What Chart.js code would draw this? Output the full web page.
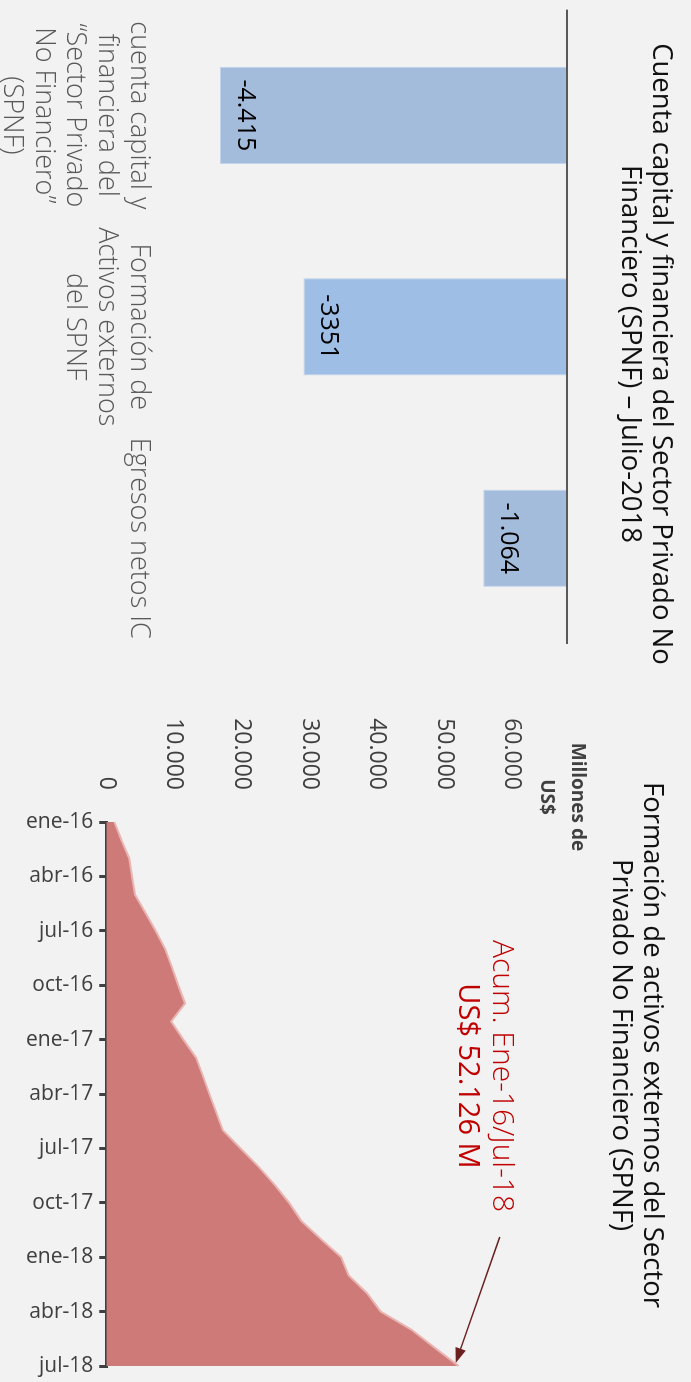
<!DOCTYPE html>
<html>
<head>
<meta charset="utf-8">
<script src="https://cdn.jsdelivr.net/npm/chart.js@4.4.1/dist/chart.umd.min.js"></script>
<style>
  html, body { margin: 0; padding: 0; background: #f2f2f2; overflow: hidden; }
  #frame {
    position: absolute; left: 0; top: 0;
    width: 1382px; height: 691px;
    background: #f2f2f2;
    transform-origin: 0 0;
    transform: translateX(691px) rotate(90deg);
  }
  #barras { position: absolute; left: 0; top: 0; }
  #area { position: absolute; left: 708px; top: 0; }
</style>
</head>
<body>
<div id="frame">
  <canvas id="barras" width="708" height="691"></canvas>
  <canvas id="area" width="674" height="691"></canvas>
</div>
<script>
// --- panel izquierdo: cuenta capital y financiera SPNF, julio 2018
const conceptos = [
  ["cuenta capital y", "financiera del", "\u201cSector Privado", "No Financiero\u201d", "(SPNF)"],
  ["Formación de", "Activos externos", "del SPNF"],
  ["Egresos netos IC"]
];
const flujos = [-4415, -3351, -1064];
const flujosTexto = ["-4.415", "-3351", "-1.064"];
const coloresBarras = ["#a4bcdc", "#9ebee6", "#a4bcdc"];

// --- panel derecho: formación de activos externos acumulada (millones US$)
const meses = [
  "ene-16", "feb-16", "mar-16", "abr-16", "may-16", "jun-16", "jul-16", "ago-16", "sep-16", "oct-16", "nov-16", "dic-16",
  "ene-17", "feb-17", "mar-17", "abr-17", "may-17", "jun-17", "jul-17", "ago-17", "sep-17", "oct-17", "nov-17", "dic-17",
  "ene-18", "feb-18", "mar-18", "abr-18", "may-18", "jun-18", "jul-18"
];
const acumulado = [
  1200, 2250, 3400, 3800, 4250, 5800, 7300, 8700, 9700, 10650, 11650, 9600,
  11400, 13300, 14300, 15250, 16250, 17250, 19850, 22500, 24900, 27050, 28850, 31750,
  34750, 35850, 38600, 40600, 45150, 48600, 52126
];
const ticksMiles = [0, 10000, 20000, 30000, 40000, 50000, 60000];

const fuente = "'Open Sans', 'Noto Sans', sans-serif";

function miles(v) {
  return String(v).replace(/\B(?=(\d{3})+(?!\d))/g, ".");
}

new Chart(document.getElementById("barras").getContext("2d"), {
  type: "bar",
  data: {
    labels: conceptos,
    datasets: [{
      data: flujos,
      backgroundColor: coloresBarras,
      borderColor: "#c3d3ea",
      borderWidth: 1,
      barPercentage: 0.46,
      categoryPercentage: 1
    }]
  },
  options: {
    responsive: false,
    animation: false,
    layout: { padding: { left: 8, right: 8, top: 0, bottom: 0 } },
    plugins: {
      legend: { display: false },
      tooltip: { enabled: false },
      title: {
        display: true,
        text: ["Cuenta capital y financiera del Sector Privado No", "Financiero (SPNF) \u2013 Julio-2018"],
        color: "#111",
        font: { family: fuente, size: 27.5, weight: "normal", lineHeight: 1.11 },
        padding: { top: 15, bottom: 48 }
      }
    },
    scales: {
      x: {
        afterFit(scale) { scale.height = 174; },
        grid: { display: false, drawTicks: false },
        border: { display: false },
        ticks: {
          autoSkip: false,
          maxRotation: 0,
          padding: 20,
          color: "#595959",
          font: { family: fuente, size: 27, weight: 300, lineHeight: 1.17 }
        }
      },
      y: {
        position: "right",
        min: -5000,
        max: 0,
        afterFit(scale) { scale.width = 56; },
        ticks: { display: false },
        border: { display: false },
        grid: {
          drawTicks: false,
          lineWidth: 2,
          color: (ctx) => (ctx.tick && ctx.tick.value === 0 ? "#595959" : "rgba(0,0,0,0)")
        }
      }
    }
  },
  plugins: [{
    id: "valoresBarras",
    afterDatasetsDraw(chart) {
      const ctx = chart.ctx;
      const meta = chart.getDatasetMeta(0);
      ctx.save();
      ctx.fillStyle = "#000";
      ctx.font = "25px " + fuente;
      ctx.textAlign = "center";
      ctx.textBaseline = "middle";
      meta.data.forEach((bar, i) => {
        ctx.fillText(flujosTexto[i], bar.x, bar.y - 25);
      });
      ctx.restore();
    }
  }]
});

new Chart(document.getElementById("area").getContext("2d"), {
  type: "line",
  data: {
    labels: meses,
    datasets: [{
      data: acumulado,
      fill: "origin",
      backgroundColor: "#cd7a78",
      borderColor: "#e9b5b3",
      borderWidth: 2,
      pointRadius: 0,
      tension: 0
    }]
  },
  options: {
    responsive: false,
    animation: false,
    layout: { padding: { left: 0, right: 0, top: 0, bottom: 20 } },
    plugins: {
      legend: { display: false },
      tooltip: { enabled: false },
      title: {
        display: true,
        text: ["Formación de activos externos del Sector", "Privado No Financiero (SPNF)"],
        color: "#111",
        font: { family: fuente, size: 27.5, weight: "normal", lineHeight: 1.11 },
        padding: { top: 24, bottom: 94 }
      }
    },
    scales: {
      x: {
        afterFit(scale) { scale.paddingRight = 16; },
        border: { display: true, color: "#404040", width: 3 },
        grid: { drawOnChartArea: false, color: "#404040", lineWidth: 3, tickLength: 7 },
        ticks: {
          autoSkip: false,
          minRotation: 90,
          maxRotation: 90,
          padding: 6,
          color: "#404040",
          font: { family: fuente, size: 21 },
          callback: (v, i) => (i % 3 === 0 ? meses[i] : null)
        }
      },
      y: {
        min: 0,
        max: 60000,
        afterFit(scale) { scale.width = 114; },
        afterBuildTicks(scale) { scale.ticks = ticksMiles.map((v) => ({ value: v })); },
        grid: { display: false, drawTicks: false },
        border: { display: false },
        ticks: {
          padding: 32,
          color: "#404040",
          font: { family: fuente, size: 23 },
          callback: (v) => miles(v)
        }
      }
    }
  },
  plugins: [{
    id: "anotaciones",
    afterDraw(chart) {
      const ctx = chart.ctx;
      const a = chart.chartArea;
      const meta = chart.getDatasetMeta(0);
      const ultimo = meta.data[meta.data.length - 1];
      ctx.save();
      // título del eje
      ctx.fillStyle = "#404040";
      ctx.font = "bold 19px " + fuente;
      ctx.textAlign = "center";
      ctx.textBaseline = "middle";
      ctx.fillText("Millones de", a.left - 25, a.top - 65);
      ctx.fillText("US$", a.left - 25, a.top - 34);
      // acumulado
      ctx.fillStyle = "#c00000";
      ctx.font = "300 30px " + fuente;
      ctx.fillText("Acum. Ene-16/Jul-18", a.left + 254, a.top + 10);
      ctx.font = "29px " + fuente;
      ctx.fillText("US$ " + miles(acumulado[acumulado.length - 1]) + " M", a.left + 254, a.top + 45);
      // flecha
      const tx = ultimo.x - 3, ty = ultimo.y + 3;
      const sx = tx - 126, sy = ty - 44;
      const ang = Math.atan2(ty - sy, tx - sx);
      ctx.strokeStyle = "#6b1f1f";
      ctx.fillStyle = "#6b1f1f";
      ctx.lineWidth = 1.5;
      ctx.beginPath();
      ctx.moveTo(sx, sy);
      ctx.lineTo(tx - 12 * Math.cos(ang), ty - 12 * Math.sin(ang));
      ctx.stroke();
      ctx.beginPath();
      ctx.moveTo(tx, ty);
      ctx.lineTo(tx - 16 * Math.cos(ang - 0.35), ty - 16 * Math.sin(ang - 0.35));
      ctx.lineTo(tx - 16 * Math.cos(ang + 0.35), ty - 16 * Math.sin(ang + 0.35));
      ctx.closePath();
      ctx.fill();
      ctx.restore();
    }
  }]
});
</script>
</body>
</html>
